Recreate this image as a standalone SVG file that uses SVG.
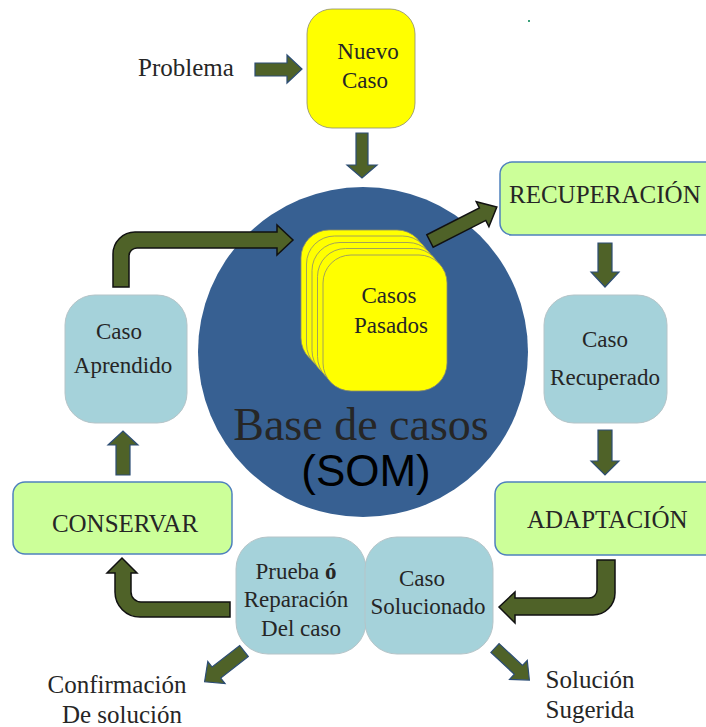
<svg xmlns="http://www.w3.org/2000/svg" width="706" height="727" viewBox="0 0 706 727">
<defs>
<style>
.t{font-family:"Liberation Serif","Times New Roman",serif;fill:#262626;font-size:23px;text-anchor:middle}
.big{font-size:25px}
.yel{fill:#ffff00;stroke:#8c8c6e;stroke-width:0.8}
.blu{fill:#a5d2da;stroke:#b5c4c8;stroke-width:1}
.grn{fill:#ccff99;stroke:#4f81bd;stroke-width:1.5}
.arr{fill:#4f6228;stroke:#2c4d75;stroke-width:1.2;stroke-linejoin:miter}
.arrk{fill:#4f6228;stroke:#111;stroke-width:1.5;stroke-linejoin:miter}
</style>
</defs>
<rect width="706" height="727" fill="#fff"/>
<rect x="528" y="20" width="2" height="2" fill="#3aa07a"/>

<g id="base">
<circle cx="363" cy="352" r="165" fill="#376092"/>
<text class="t" x="361" y="440" style="font-size:46px">Base de casos</text>
<text x="366" y="486" style="font-family:'Liberation Sans',Arial,sans-serif;font-size:44px;fill:#000;text-anchor:middle">(SOM)</text>
</g>

<g id="casos-pasados">
<rect class="yel" x="301" y="230" width="124" height="136" rx="28"/>
<rect class="yel" x="306.5" y="236" width="124" height="136" rx="28"/>
<rect class="yel" x="312" y="242.5" width="124" height="136" rx="28"/>
<rect class="yel" x="317.5" y="248.5" width="124" height="136" rx="28"/>
<rect class="yel" x="323" y="255" width="124" height="136" rx="28"/>
<text class="t" x="389" y="303">Casos</text>
<text class="t" x="391" y="333">Pasados</text>
</g>

<g id="problema"><text class="t big" x="186" y="76">Problema</text></g>

<g id="nuevo-caso">
<rect class="yel" x="307" y="9" width="108" height="119" rx="25"/>
<text class="t" x="368" y="59">Nuevo</text>
<text class="t" x="365" y="88">Caso</text>
</g>

<g id="recuperacion">
<rect class="grn" x="500" y="162" width="222" height="73" rx="12"/>
<text class="t big" x="509" y="203" style="text-anchor:start">RECUPERACIÓN</text>
</g>

<g id="caso-recuperado">
<rect class="blu" x="544" y="295" width="123" height="128" rx="30"/>
<text class="t" x="605" y="347">Caso</text>
<text class="t" x="605" y="385">Recuperado</text>
</g>

<g id="adaptacion">
<rect class="grn" x="495" y="482" width="225" height="73" rx="12"/>
<text class="t big" x="527" y="528" style="text-anchor:start">ADAPTACIÓN</text>
</g>

<g id="prueba">
<rect class="blu" x="236" y="537" width="130" height="117" rx="32"/>
<text class="t" x="296" y="579">Prueba <tspan font-weight="bold">ó</tspan></text>
<text class="t" x="296" y="607">Reparación</text>
<text class="t" x="301" y="636">Del caso</text>
</g>

<g id="caso-solucionado">
<rect class="blu" x="365" y="537" width="128" height="117" rx="32"/>
<text class="t" x="422" y="586">Caso</text>
<text class="t" x="428" y="614">Solucionado</text>
</g>

<g id="conservar">
<rect class="grn" x="13" y="482" width="219" height="72" rx="12"/>
<text class="t big" x="125" y="532">CONSERVAR</text>
</g>

<g id="caso-aprendido">
<rect class="blu" x="65" y="295" width="122" height="128" rx="30"/>
<text class="t" x="119" y="339">Caso</text>
<text class="t" x="123" y="373">Aprendido</text>
</g>

<g id="confirmacion">
<text class="t big" x="117" y="693">Confirmación</text>
<text class="t big" x="122" y="723">De solución</text>
</g>

<g id="solucion-sugerida">
<text class="t big" x="590" y="688">Solución</text>
<text class="t big" x="590" y="718">Sugerida</text>
</g>

<g id="connectors">
<path class="arr" d="M255,63 H287 V55 L302,69 L287,83 V76 H255 Z"/>
<path class="arr" d="M356,133 H368 V165 H377 L362,178 L347,165 H356 Z"/>
<path class="arrk" d="M0,-7 H59 V-14 L75,0 L59,14 V7 H0 Z" transform="translate(430,241) rotate(-27)"/>
<path class="arr" d="M598,243 H612 V272 H619 L605,287 L591,272 H598 Z"/>
<path class="arr" d="M598,430 H612 V461 H619 L605,475 L591,461 H598 Z"/>
<path class="arrk" d="M597,560 H615 V593 A22,22 0 0 1 593,615 H515 V623 L499,607 L515,592 V598 H589 A8,8 0 0 0 597,590 Z"/>
<path class="arr" d="M0,-6 H32 V-13 L47,0 L32,13 V6 H0 Z" transform="translate(495,648) rotate(43)"/>
<path class="arr" d="M0,-7 H35 V-14 L50,0 L35,14 V7 H0 Z" transform="translate(244,651) rotate(142)"/>
<path class="arrk" d="M230,602 H141 A10,10 0 0 1 131,592 V573 H137 L122,558 L107,573 H115 V592 A25,25 0 0 0 140,617 H230 Z"/>
<path class="arr" d="M116,475 V445 H108 L123,431 L138,445 H130 V475 Z"/>
<path class="arrk" d="M113,287 V254 A22,22 0 0 1 135,232 H277 V225 L293,240 L277,255 V248 H137 A8,8 0 0 0 129,256 V287 Z"/>
</g>
</svg>
